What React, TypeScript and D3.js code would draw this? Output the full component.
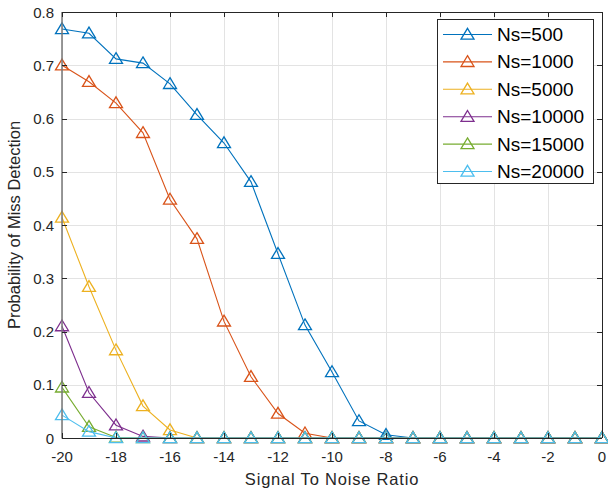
import React from "react";
import * as d3 from "d3";

const snr = [-20, -19, -18, -17, -16, -15, -14, -13, -12, -11, -10, -9, -8, -7, -6, -5, -4, -3, -2, -1, 0];

const pmd500 = [0.768, 0.760, 0.712, 0.704, 0.665, 0.607, 0.554, 0.481, 0.346, 0.212, 0.124, 0.032, 0.006, 0, 0, 0, 0, 0, 0, 0, 0];
const pmd1000 = [0.700, 0.669, 0.629, 0.573, 0.448, 0.374, 0.219, 0.115, 0.046, 0.009, 0, 0, 0, 0, 0, 0, 0, 0, 0, 0, 0];
const pmd5000 = [0.414, 0.284, 0.165, 0.060, 0.015, 0, 0, 0, 0, 0, 0, 0, 0, 0, 0, 0, 0, 0, 0, 0, 0];
const pmd10000 = [0.210, 0.085, 0.024, 0.003, 0, 0, 0, 0, 0, 0, 0, 0, 0, 0, 0, 0, 0, 0, 0, 0, 0];
const pmd15000 = [0.095, 0.021, 0.001, 0, 0, 0, 0, 0, 0, 0, 0, 0, 0, 0, 0, 0, 0, 0, 0, 0, 0];
const pmd20000 = [0.043, 0.012, 0, 0, 0, 0, 0, 0, 0, 0, 0, 0, 0, 0, 0, 0, 0, 0, 0, 0, 0];

const seriesNames = ["Ns=500", "Ns=1000", "Ns=5000", "Ns=10000", "Ns=15000", "Ns=20000"];
const seriesValues = [pmd500, pmd1000, pmd5000, pmd10000, pmd15000, pmd20000];
const seriesColors = ["#0072BD", "#D95319", "#EDB120", "#7E2F8E", "#77AC30", "#4DBEEE"];

const xTicks = [-20, -18, -16, -14, -12, -10, -8, -6, -4, -2, 0];
const yTicks = [0, 0.1, 0.2, 0.3, 0.4, 0.5, 0.6, 0.7, 0.8];

const W = 608;
const H = 492;
const plot = { left: 62, right: 602, top: 12, bottom: 438 };
const font = "'Liberation Sans', Arial, Helvetica, sans-serif";
const axisColor = "#262626";

const tri = "M0,-6.2L6.5,4.6L-6.5,4.6Z";

export default function App() {
  const x = d3.scaleLinear().domain([-20, 0]).range([plot.left, plot.right]);
  const y = d3.scaleLinear().domain([0, 0.8]).range([plot.bottom, plot.top]);
  const line = d3
    .line<[number, number]>()
    .x((d) => x(d[0]))
    .y((d) => y(d[1]));

  const legend = { x: 437, y: 19, w: 156, h: 164, row: 27.4 };

  return (
    <svg
      width={W}
      height={H}
      style={{ position: "absolute", left: 0, top: 0, background: "#fff" }}
      fontFamily={font}
    >
      <rect x={0} y={0} width={W} height={H} fill="#fff" />
      {/* grid */}
      <g stroke="#e3e3e3" strokeWidth={1}>
        {xTicks.map((t) => (
          <line key={"gx" + t} x1={Math.round(x(t)) + 0.5} x2={Math.round(x(t)) + 0.5} y1={plot.top} y2={plot.bottom} />
        ))}
        {yTicks.map((t) => (
          <line key={"gy" + t} x1={plot.left} x2={plot.right} y1={Math.round(y(t)) + 0.5} y2={Math.round(y(t)) + 0.5} />
        ))}
      </g>

      {/* series */}
      {seriesValues.map((vals, i) => {
        const pts: [number, number][] = vals.map((v, j) => [snr[j], v]);
        return (
          <g key={seriesNames[i]}>
            <path d={line(pts) || ""} fill="none" stroke={seriesColors[i]} strokeWidth={1.1} />
            {pts.map((p, j) => (
              <path
                key={j}
                d={tri}
                transform={`translate(${x(p[0])},${y(p[1])})`}
                fill="none"
                stroke={seriesColors[i]}
                strokeWidth={1.3}
              />
            ))}
          </g>
        );
      })}

      {/* axes box */}
      <g stroke={axisColor} strokeWidth={1} fill="none">
        <line x1={plot.left} x2={plot.left} y1={plot.top} y2={plot.bottom + 0.5} stroke="#777" strokeWidth={1.5} />
        <line x1={plot.left} x2={plot.right} y1={plot.bottom + 0.5} y2={plot.bottom + 0.5} />
        <line x1={plot.left} x2={plot.right} y1={plot.top + 0.5} y2={plot.top + 0.5} />
        <line x1={plot.right + 0.5} x2={plot.right + 0.5} y1={plot.top} y2={plot.bottom} />
        {xTicks.map((t) => (
          <g key={"tx" + t}>
            <line x1={Math.round(x(t)) + 0.5} x2={Math.round(x(t)) + 0.5} y1={plot.bottom} y2={plot.bottom - 5} />
            <line x1={Math.round(x(t)) + 0.5} x2={Math.round(x(t)) + 0.5} y1={plot.top} y2={plot.top + 5} />
          </g>
        ))}
        {yTicks.map((t) => (
          <g key={"ty" + t}>
            <line x1={plot.left} x2={plot.left + 5} y1={Math.round(y(t)) + 0.5} y2={Math.round(y(t)) + 0.5} />
            <line x1={plot.right} x2={plot.right - 5} y1={Math.round(y(t)) + 0.5} y2={Math.round(y(t)) + 0.5} />
          </g>
        ))}
      </g>

      {/* tick labels */}
      <g fill={axisColor} fontSize={15}>
        {xTicks.map((t) => (
          <text key={"lx" + t} x={x(t)} y={plot.bottom + 24} textAnchor="middle">
            {t}
          </text>
        ))}
        {yTicks.map((t) => (
          <text key={"ly" + t} x={plot.left - 8} y={y(t) + 5.5} textAnchor="end">
            {t === 0 ? "0" : t.toFixed(1)}
          </text>
        ))}
      </g>

      {/* axis titles */}
      <text
        x={(plot.left + plot.right) / 2}
        y={484.5}
        textAnchor="middle"
        fontSize={16.5}
        letterSpacing={0.8}
        fill={axisColor}
      >
        Signal To Noise Ratio
      </text>
      <text
        transform={`translate(20,${(plot.top + plot.bottom) / 2}) rotate(-90)`}
        textAnchor="middle"
        fontSize={16.5}
        fill={axisColor}
      >
        Probability of Miss Detection
      </text>

      {/* legend */}
      <g>
        <rect x={legend.x + 0.5} y={legend.y + 0.5} width={legend.w} height={legend.h} fill="#fff" stroke={axisColor} strokeWidth={1} />
        {seriesNames.map((name, i) => {
          const cy = legend.y + 15.5 + i * legend.row;
          return (
            <g key={"lg" + name}>
              <line x1={legend.x + 6} x2={legend.x + 55} y1={cy} y2={cy} stroke={seriesColors[i]} strokeWidth={1.1} />
              <path d={tri} transform={`translate(${legend.x + 30.5},${cy})`} fill="none" stroke={seriesColors[i]} strokeWidth={1.3} />
              <text x={legend.x + 60} y={cy + 6.5} fontSize={19} fill="#000">
                {name}
              </text>
            </g>
          );
        })}
      </g>
    </svg>
  );
}
